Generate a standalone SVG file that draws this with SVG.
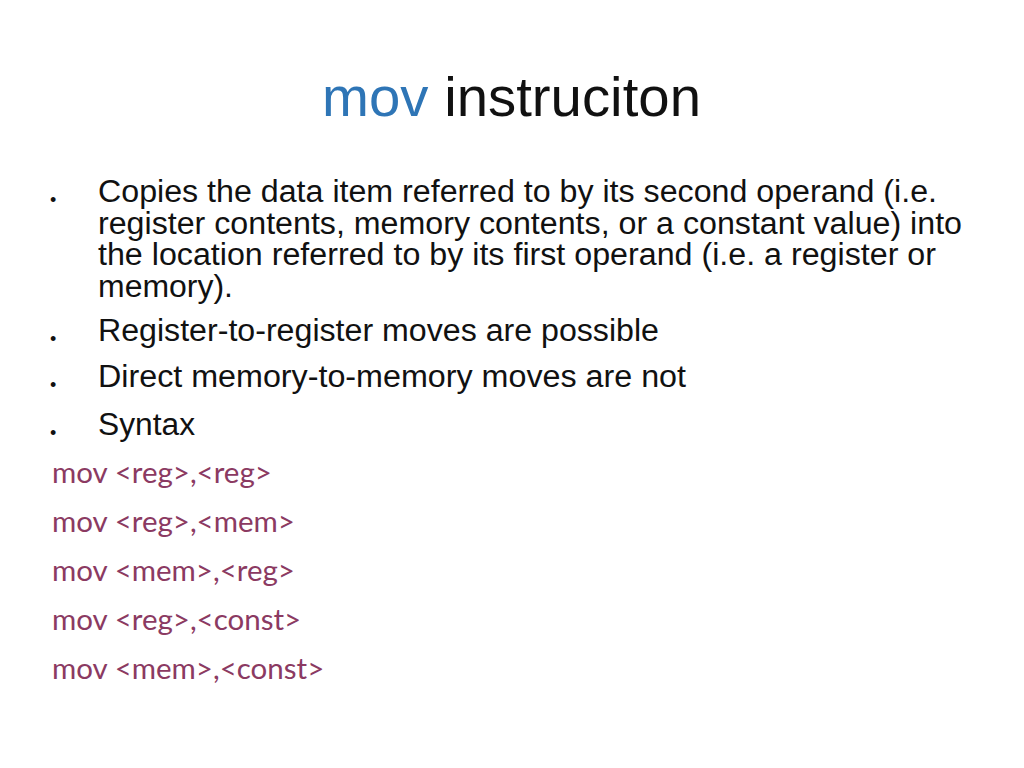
<svg xmlns="http://www.w3.org/2000/svg" width="1024" height="768" viewBox="0 0 1024 768">
<style>
.t{font-family:"Liberation Sans",Arial,sans-serif;font-size:31px;fill:#111}
.b{font-family:"Liberation Sans",Arial,sans-serif;font-size:18px;fill:#111}
.c{font-family:Lato,"Open Sans",sans-serif;font-size:29.5px;fill:#8B3A62}
</style>
<rect width="1024" height="768" fill="#fff"/>
<text x="322" y="116" font-family="Liberation Sans,Arial,sans-serif" font-size="55" textLength="379" lengthAdjust="spacingAndGlyphs"><tspan fill="#2E75B6">mov</tspan><tspan fill="#111"> instruciton</tspan></text>
<g class="b"><text x="50" y="206">•</text><text x="50" y="345">•</text><text x="50" y="391">•</text><text x="50" y="439">•</text></g>
<text class="t" x="98" y="202" textLength="839" lengthAdjust="spacingAndGlyphs">Copies the data item referred to by its second operand (i.e.</text>
<text class="t" x="98" y="234" textLength="864" lengthAdjust="spacingAndGlyphs">register contents, memory contents, or a constant value) into</text>
<text class="t" x="98" y="265" textLength="838" lengthAdjust="spacingAndGlyphs">the location referred to by its first operand (i.e. a register or</text>
<text class="t" x="98" y="297" textLength="135" lengthAdjust="spacingAndGlyphs">memory).</text>
<text class="t" x="98" y="341" textLength="561" lengthAdjust="spacingAndGlyphs">Register-to-register moves are possible</text>
<text class="t" x="98" y="387" textLength="588" lengthAdjust="spacingAndGlyphs">Direct memory-to-memory moves are not</text>
<text class="t" x="98" y="435" textLength="97" lengthAdjust="spacingAndGlyphs">Syntax</text>
<text class="c" x="52" y="483">mov &lt;reg&gt;,&lt;reg&gt;</text>
<text class="c" x="52" y="532">mov &lt;reg&gt;,&lt;mem&gt;</text>
<text class="c" x="52" y="581">mov &lt;mem&gt;,&lt;reg&gt;</text>
<text class="c" x="52" y="630">mov &lt;reg&gt;,&lt;const&gt;</text>
<text class="c" x="52" y="679">mov &lt;mem&gt;,&lt;const&gt;</text>
</svg>
